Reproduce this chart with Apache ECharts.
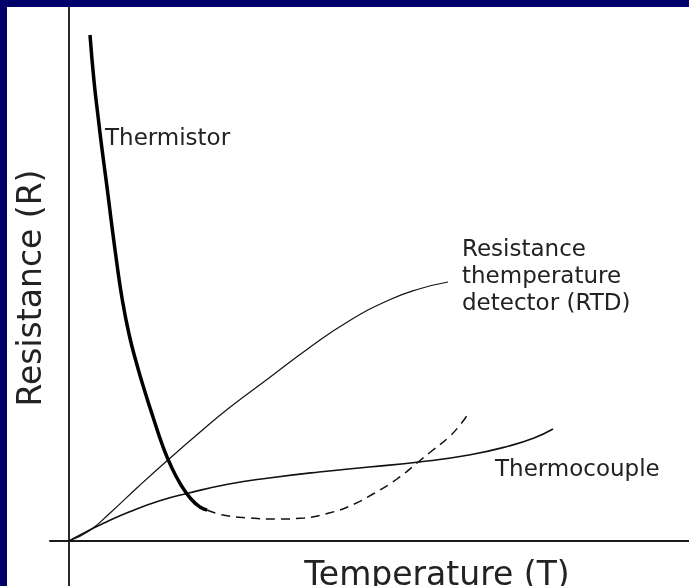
<!DOCTYPE html>
<html lang="en">
<head>
    <meta charset="utf-8">
    <title>Resistance vs Temperature</title>
    <script src="https://cdn.jsdelivr.net/npm/echarts@6.0.0/dist/echarts.min.js"></script>
    <style>
        html, body {
            margin: 0;
            padding: 0;
            width: 689px;
            height: 586px;
            background: #00006a; /* navy frame */
            overflow: hidden;
        }
        #chart {
            position: absolute;
            left: 7px;
            top: 7px;
            width: 682px;
            height: 579px;
        }
    </style>
</head>
<body>
<div id="chart"></div>
<script type="text/javascript">
    // curves: [temperature, resistance] in arbitrary units
    var thermistor = [
        [21, 506], [25, 460], [29, 425], [33, 392], [38, 354], [42, 322], [47, 284],
        [53, 243], [60, 207], [68, 176], [76, 149], [84, 124], [93, 97], [102, 75],
        [112, 56], [122, 42], [131, 34], [138, 31]
    ];
    var thermistorRise = [
        [138, 31], [154, 26], [181, 23], [208, 22], [235, 23], [260, 28], [281, 35],
        [304, 47], [328, 62], [348, 78], [364, 91], [380, 104], [391, 116], [399, 127]
    ];
    var rtd = [
        [0, 0], [20, 10], [40, 27], [70, 55], [100, 82], [130, 108], [160, 133],
        [200, 163], [240, 193], [280, 220], [320, 241], [350, 252], [379, 259]
    ];
    var thermocouple = [
        [0, 0], [15, 8], [35, 18], [60, 29], [90, 40], [120, 48], [160, 57], [200, 63],
        [250, 69], [300, 74], [350, 79], [400, 86], [440, 95], [465, 103], [484, 112]
    ];
    var curveNames = ['Thermistor', 'Thermocouple'];
    var rtdLines = ['Resistance', 'themperature', 'detector (RTD)'];
    var xTitle = 'Temperature (T)';
    var yTitle = 'Resistance (R)';

    var ink = '#111';
    var textFont = 'DejaVu Sans';

    var myChart = echarts.init(document.getElementById('chart'), null, { renderer: 'canvas' });

    var option = {
        backgroundColor: '#fff',
        animation: false,
        grid: { left: 43, right: 0, top: 0, bottom: 0 },
        xAxis: {
            type: 'value',
            min: -19,
            max: 620,
            axisLine: { onZero: true, lineStyle: { color: '#1a1a1a', width: 2 } },
            axisTick: { show: false },
            axisLabel: { show: false },
            splitLine: { show: false }
        },
        yAxis: {
            type: 'value',
            min: -45,
            max: 534,
            axisLine: { show: true, onZero: true, lineStyle: { color: '#2a2a2a', width: 2 } },
            axisTick: { show: false },
            axisLabel: { show: false },
            splitLine: { show: false }
        },
        series: [
            {
                name: 'RTD', type: 'line', data: rtd, smooth: 0.5, symbol: 'none',
                lineStyle: { color: ink, width: 1.2 }
            },
            {
                name: 'Thermocouple', type: 'line', data: thermocouple, smooth: 0.5, symbol: 'none',
                lineStyle: { color: ink, width: 1.6 }
            },
            {
                name: 'Thermistor (rise)', type: 'line', data: thermistorRise, smooth: 0.5, symbol: 'none',
                lineStyle: { color: ink, width: 1.5, type: [9, 6] }
            },
            {
                name: 'Thermistor', type: 'line', data: thermistor, smooth: 0.5, symbol: 'none',
                lineStyle: { color: '#000', width: 3.5 }
            }
        ],
        graphic: [
            {
                type: 'text', left: 98, top: 121,
                style: { text: curveNames[0], font: '23px "' + textFont + '"', fill: '#222' }
            },
            {
                type: 'text', left: 488, top: 452,
                style: { text: curveNames[1], font: '23px "' + textFont + '"', fill: '#222' }
            },
            {
                type: 'text', left: 455, top: 230,
                style: { text: rtdLines.join('\n'), font: '23px "' + textFont + '"', lineHeight: 27, fill: '#222' }
            },
            {
                type: 'text', x: 430, y: 569,
                style: {
                    text: xTitle, font: '33px "' + textFont + '"', fill: '#222',
                    align: 'center', verticalAlign: 'middle'
                }
            },
            {
                type: 'text', x: 25, y: 281, rotation: Math.PI / 2,
                style: {
                    text: yTitle, font: '33px "' + textFont + '"', fill: '#222',
                    align: 'center', verticalAlign: 'middle'
                }
            }
        ]
    };

    myChart.setOption(option);
</script>
</body>
</html>
